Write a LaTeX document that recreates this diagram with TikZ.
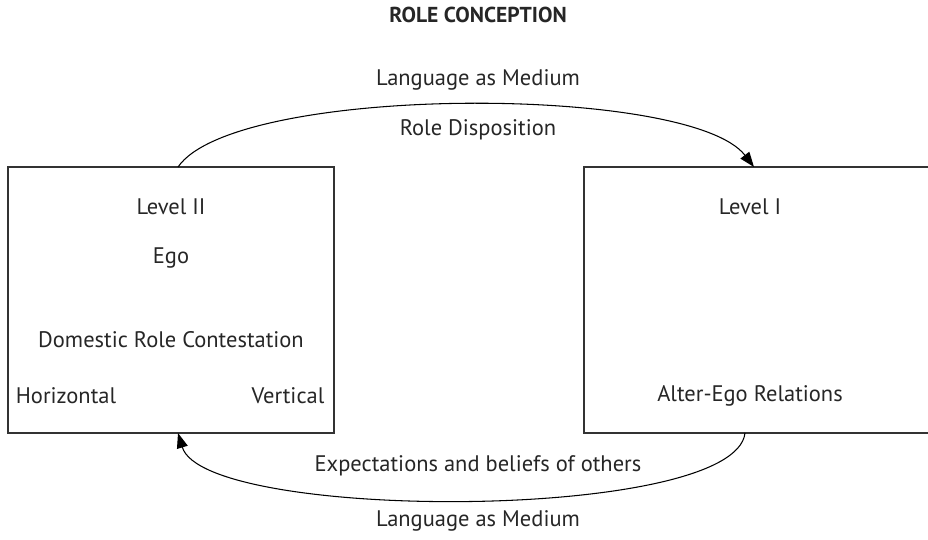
\documentclass[tikz,border=0pt]{standalone}
\usepackage{fontspec}
\setmainfont{PT Sans}
\usetikzlibrary{arrows.meta}
\begin{document}
\begin{tikzpicture}[x=0.02cm,y=-0.02cm,font=\fontsize{12.8}{14}\selectfont,text=black!85,
  levelbox/.style={draw=black!80,line width=0.7pt,minimum width=#1,minimum height=5.32cm,inner sep=0pt},
  flow/.style={line width=0.6pt,-{Triangle[length=0.3cm,width=0.22cm]}}]
\useasboundingbox (0,0) rectangle (928,539);
\clip (0,0) rectangle (928,539);

\node[font=\fontsize{12.3}{14}\selectfont\bfseries] (title) at (478,15) {ROLE CONCEPTION};

% boxes
\node[levelbox=6.52cm] (lvltwo) at (171,300) {};
\node[levelbox=7.6cm] (lvlone) at (774,300) {};

\node (lvltwolbl) at (171,207) {Level II};
\node (ego) at (171,258) {Ego};
\node (domestic) at (171,340) {Domestic Role Contestation};
\node (horiz) at (66,396) {Horizontal};
\node (vert) at (288,396) {Vertical};

\node (lvlonelbl) at (750,207) {Level I};
\node (alter) at (750,396) {Alter-Ego Relations};

% arcs
\coordinate (topstart) at (178,167);
\coordinate (topend) at (754,167);
\coordinate (botstart) at (745,433);
\coordinate (botend) at (178,433);

\draw[flow] (topstart) .. controls (235,84) and (690,84) .. (topend);
\draw[flow] (botstart) .. controls (735,522) and (205,522) .. (botend);

\node (medtop) at (478,80) {Language as Medium};
\node (roledisp) at (478,130) {Role Disposition};
\node (expect) at (478,466) {Expectations and beliefs of others};
\node (medbot) at (478,521) {Language as Medium};
\end{tikzpicture}
\end{document}
